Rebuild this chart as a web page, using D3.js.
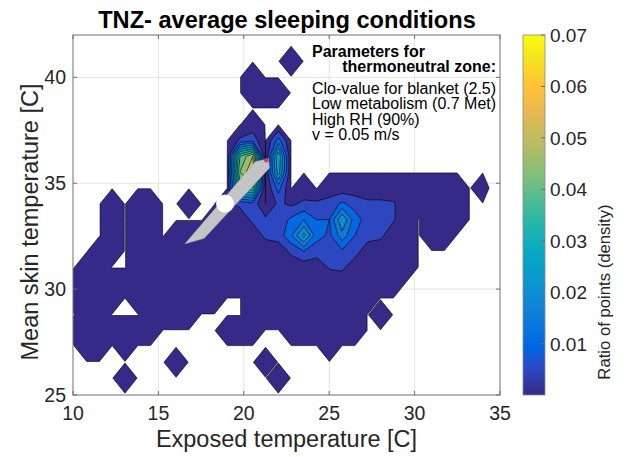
<!DOCTYPE html>
<html><head><meta charset="utf-8">
<script src="https://cdn.jsdelivr.net/npm/d3@7"></script>
<style>
body{margin:0;background:#fff}
svg{display:block}
text{font-family:"Liberation Sans",Arial,Helvetica,sans-serif;fill:#262626}
</style>
</head><body>
<svg id="chart" width="626" height="457"></svg>
<script>
// ---------------- data ----------------
// centres of the 2-D histogram bins (exposed temperature, mean skin temperature)
const xBinCenters = [10.05,10.80,11.55,12.29,13.04,13.79,14.54,15.29,16.03,16.78,17.53,18.28,19.03,19.77,20.52,21.27,22.02,22.77,23.51,24.26,25.01,25.76,26.51,27.25,28.00,28.75,29.50,30.25,30.99,31.74,32.49,33.24,33.99];
const yBinCenters = [25.05,25.80,26.55,27.29,28.04,28.79,29.54,30.29,31.03,31.78,32.53,33.28,34.03,34.77,35.52,36.27,37.02,37.77,38.51,39.26,40.01,40.76,41.51];
// bins holding at least one sample; row 0 = lowest skin temperature
const occupiedRows = [
  "000000000000000000000000000000000",
  "000010000000000010000000000000000",
  "000000001000000100000000000000000",
  "011010000000000000001000000000000",
  "111111100000111001111110000000000",
  "011000111100001111111110100000000",
  "111101111111001111111111000000000",
  "111111111111111111111111110000000",
  "011001111111111111111111111000000",
  "001101111111111111111111111000000",
  "000101101111111111111111111011000",
  "000101100001111111111111111011100",
  "000101100100111011111111111111100",
  "000000000000011010101111111111101",
  "000000000000011010000000000000000",
  "000000000000011010000000000000000",
  "000000000000011010000000000000000",
  "000000000000001000000000000000000",
  "000000000000000000000000000000000",
  "000000000000001110000000000000000",
  "000000000000001000000000000000000",
  "000000000000000001000000000000000",
  "000000000000000000000000000000000"
];
const sparseDensity = 0.002;           // ratio of points in a lightly used bin
// denser bins: [x bin index, y bin index, ratio of points]
const denseBins = [
  [12,12,0.004],[13,12,0.006],[14,12,0.008],[13,13,0.035],[14,13,0.040],
  [13,14,0.045],[14,14,0.055],[13,15,0.040],[14,15,0.050],[13,16,0.006],[14,16,0.008],
  [16,12,0.006],[16,13,0.012],[16,14,0.028],[16,15,0.030],[16,16,0.012],
  [17,12,0.004],[18,12,0.006],[19,12,0.006],[20,12,0.007],[21,12,0.011],[22,12,0.008],[23,12,0.006],[24,12,0.006],[25,12,0.0055],
  [14,11,0.006],[15,11,0.006],[16,11,0.007],[17,11,0.011],[18,11,0.015],[19,11,0.010],[20,11,0.010],[21,11,0.025],[22,11,0.012],[23,11,0.008],[24,11,0.008],[25,11,0.0055],
  [15,10,0.006],[16,10,0.007],[17,10,0.014],[18,10,0.027],[19,10,0.012],[20,10,0.009],[21,10,0.018],[22,10,0.010],[23,10,0.007],[24,10,0.006],
  [17,9,0.006],[18,9,0.010],[19,9,0.007],[20,9,0.007],[21,9,0.009],[22,9,0.007],
  [20,8,0.0055],[21,8,0.006]
];
const contourLevels = [0.0001,0.005,0.01,0.015,0.02,0.025,0.03,0.035,0.04,0.045,0.05];
const colorRange = [0, 0.07];
const xTicks = [10,15,20,25,30,35];
const yTicks = [25,30,35,40];
const colorbarTicks = [0.01,0.02,0.03,0.04,0.05,0.06,0.07];
// thermoneutral-zone marker (data units)
const tnzBand = [[16.56,32.14],[17.68,32.40],[21.50,35.72],[21.45,36.16],[20.68,36.02]];
const tnzCentre = [18.90,34.04];
const tnzEnd = [21.32,36.08];
const noteTitle = ["Parameters for","thermoneutral zone:"];
const noteLines = ["Clo-value for blanket (2.5)","Low metabolism (0.7 Met)","High RH (90%)","v = 0.05 m/s"];
// parula colormap stops
const parulaStops = ["#352a87","#2c4ac7","#0363e1","#046de0","#1481d6","#0998d1","#07a9c2","#25b5a9","#59bd8c","#92bf73","#c0bc60","#e9b94e","#fdbe3d","#fec832","#f5eb18","#f9fb0e"];
const parulaPos   = [0,5,8,10,15,20,25,30,35,40,45,50,53,55,60,63].map(d=>d/63);

// ---------------- drawing ----------------
const W=626,H=457, M={l:73,r:500,t:35,b:395};
const svg=d3.select('#chart');
svg.append('rect').attr('width',W).attr('height',H).attr('fill','#fff');

const x=d3.scaleLinear().domain([10,35]).range([M.l,M.r]);
const y=d3.scaleLinear().domain([25,42]).range([M.b,M.t]);
const parula=d3.scaleLinear().domain(parulaPos).range(parulaStops).interpolate(d3.interpolateRgb).clamp(true);
const color=v=>parula((v-colorRange[0])/(colorRange[1]-colorRange[0]));

const defs=svg.append('defs');
defs.append('clipPath').attr('id','plotclip').append('rect')
  .attr('x',M.l).attr('y',M.t).attr('width',M.r-M.l).attr('height',M.b-M.t);

// grid
const grid=svg.append('g').attr('stroke','#e3e3e3').attr('stroke-width',1);
xTicks.slice(1,-1).forEach(t=>grid.append('line').attr('x1',x(t)).attr('x2',x(t)).attr('y1',M.t).attr('y2',M.b));
yTicks.slice(1).forEach(t=>grid.append('line').attr('y1',y(t)).attr('y2',y(t)).attr('x1',M.l).attr('x2',M.r));

// density grid -> filled contours (grid stored top row first)
const nx=xBinCenters.length, ny=yBinCenters.length;
const values=new Array(nx*ny).fill(0);
const idx=(i,j)=>(ny-1-j)*nx+i;
occupiedRows.forEach((row,j)=>{for(let i=0;i<nx;i++) if(row[i]==='1') values[idx(i,j)]=sparseDensity;});
denseBins.forEach(([i,j,v])=>{values[idx(i,j)]=v;});
const gx=d3.scaleLinear().domain([0.5,nx-0.5]).range([xBinCenters[0],xBinCenters[nx-1]]);
const gy=d3.scaleLinear().domain([0.5,ny-0.5]).range([yBinCenters[ny-1],yBinCenters[0]]);
const proj=d3.geoTransform({point(px,py){this.stream.point(x(gx(px)),y(gy(py)));}});
const path=d3.geoPath(proj);
const contours=d3.contours().size([nx,ny]).thresholds(contourLevels)(values);
const cg=svg.append('g').attr('clip-path','url(#plotclip)');
cg.selectAll('path').data(contours).join('path')
  .attr('d',path)
  .attr('fill',(d,k)=>k===0?color(0):color(d.value))
  .attr('stroke','#000').attr('stroke-width',0.6).attr('stroke-linejoin','round');

// TNZ marker
const ag=svg.append('g').attr('clip-path','url(#plotclip)');
ag.append('path').attr('d','M'+tnzBand.map(p=>[x(p[0]),y(p[1])].join(',')).join('L')+'Z')
  .attr('fill','#c4c4c4').attr('stroke','#bdbdbd').attr('stroke-width',0.5);
ag.append('circle').attr('cx',x(tnzCentre[0])).attr('cy',y(tnzCentre[1])).attr('r',9).attr('fill','#fff');
ag.append('circle').attr('cx',x(tnzEnd[0])).attr('cy',y(tnzEnd[1])).attr('r',2.2).attr('fill','#e8334f');

// axes box & ticks
const ax=svg.append('g').attr('stroke','#6e6e6e').attr('stroke-width',1).attr('fill','none');
ax.append('rect').attr('x',M.l).attr('y',M.t).attr('width',M.r-M.l).attr('height',M.b-M.t);
xTicks.forEach(t=>{
  ax.append('line').attr('x1',x(t)).attr('x2',x(t)).attr('y1',M.b).attr('y2',M.b-4);
  ax.append('line').attr('x1',x(t)).attr('x2',x(t)).attr('y1',M.t).attr('y2',M.t+4);
});
yTicks.forEach(t=>{
  ax.append('line').attr('y1',y(t)).attr('y2',y(t)).attr('x1',M.l).attr('x2',M.l+4);
  ax.append('line').attr('y1',y(t)).attr('y2',y(t)).attr('x1',M.r).attr('x2',M.r-4);
});
svg.append('g').selectAll('text').data(xTicks).join('text')
  .attr('x',d=>x(d)).attr('y',420).attr('text-anchor','middle').attr('font-size',19.5).text(d=>d);
svg.append('g').selectAll('text').data(yTicks).join('text')
  .attr('x',66).attr('y',d=>y(d)+7).attr('text-anchor','end').attr('font-size',19.5).text(d=>d);

// labels & title
svg.append('text').attr('x',(M.l+M.r)/2).attr('y',447).attr('text-anchor','middle')
  .attr('font-size',23.5).text('Exposed temperature [C]');
svg.append('text').attr('transform','translate(38,222) rotate(-90)').attr('text-anchor','middle')
  .attr('font-size',23.5).text('Mean skin temperature [C]');
svg.append('text').attr('x',287).attr('y',28).attr('text-anchor','middle')
  .attr('font-size',23.6).attr('font-weight','bold').style('fill','#000').text('TNZ- average sleeping conditions');

// note
svg.append('text').attr('x',312).attr('y',57).attr('font-size',16).attr('font-weight','bold').style('fill','#000').text(noteTitle[0]);
svg.append('text').attr('x',496).attr('y',72).attr('text-anchor','end').attr('font-size',16).attr('font-weight','bold').style('fill','#000').text(noteTitle[1]);
noteLines.forEach((t,k)=>svg.append('text').attr('x',312).attr('y',94+k*15.4).attr('font-size',16).style('fill','#000').text(t));

// colorbar
const cb={x:523,w:22,t:35,b:395};
const cy=d3.scaleLinear().domain(colorRange).range([cb.b,cb.t]);
const grad=defs.append('linearGradient').attr('id','cbgrad').attr('x1',0).attr('y1',1).attr('x2',0).attr('y2',0);
parulaPos.forEach((p,k)=>grad.append('stop').attr('offset',p).attr('stop-color',parulaStops[k]));
svg.append('rect').attr('x',cb.x).attr('y',cb.t).attr('width',cb.w).attr('height',cb.b-cb.t)
  .attr('fill','url(#cbgrad)').attr('stroke','#8a8a8a').attr('stroke-width',0.8);
colorbarTicks.forEach(t=>{
  svg.append('line').attr('x1',cb.x+cb.w-4).attr('x2',cb.x+cb.w).attr('y1',cy(t)).attr('y2',cy(t)).attr('stroke','#6e6e6e');
  svg.append('text').attr('x',550).attr('y',cy(t)+7).attr('font-size',19).text(t.toFixed(2));
});
svg.append('text').attr('transform','translate(610,292) rotate(-90)').attr('text-anchor','middle')
  .attr('font-size',16.7).text('Ratio of points (density)');
</script>
</body></html>
